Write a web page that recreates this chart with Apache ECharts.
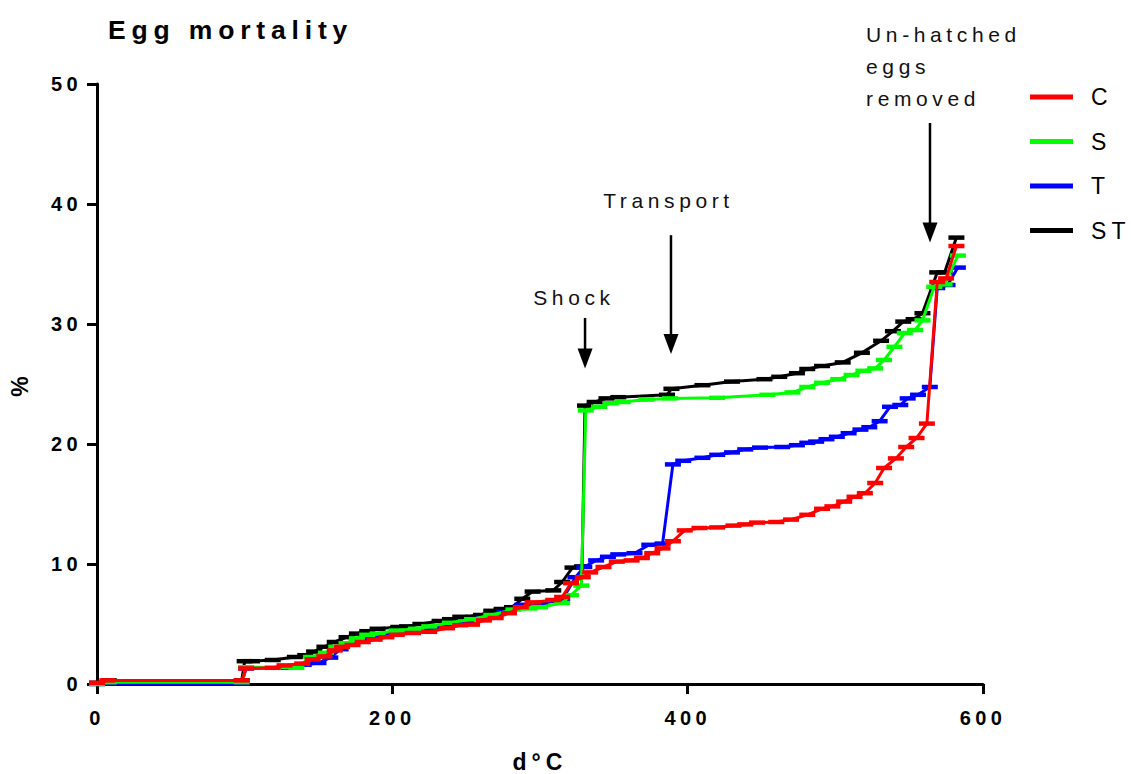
<!DOCTYPE html>
<html>
<head>
<meta charset="utf-8">
<title>Egg mortality</title>
<script src="https://cdn.jsdelivr.net/npm/echarts@6/dist/echarts.min.js"></script>
<style>
  html, body { margin: 0; padding: 0; background: #fff; }
  #chart { width: 1131px; height: 774px; }
  /* the figure uses widely tracked lettering throughout */
  #chart text { letter-spacing: 0.22em; }
</style>
</head>
<body>
<div id="chart"></div>
<script>
// Cumulative egg mortality (%) against degree-days (d°C), one [d°C, %] pair per sampling point.
const seriesNames = ['C', 'S', 'T', 'ST'];

const cData = [
  [0, 0.1], [7, 0.3], [98, 0.3], [101, 1.3], [119, 1.35], [127, 1.55], [139, 1.7], [146, 2.05],
  [154, 2.3], [161, 2.8], [166, 3.1], [173, 3.25], [180, 3.5], [188, 3.7], [196, 3.9], [203, 4.1],
  [214, 4.25], [225, 4.35], [237, 4.65], [246, 4.9], [254, 4.95], [262, 5.3], [270, 5.5], [279, 5.9],
  [287, 6.4], [295, 6.8], [309, 7.0], [315, 7.25], [321, 8.4], [329, 8.9], [334, 9.3], [343, 9.75],
  [352, 10.2], [362, 10.3], [369, 10.5], [376, 10.9], [383, 11.3], [390, 11.9], [398, 12.8], [408, 13.0],
  [420, 13.05], [431, 13.2], [439, 13.3], [447, 13.45], [460, 13.5], [470, 13.7], [481, 14.1], [491, 14.6],
  [498, 14.8], [506, 15.2], [513, 15.6], [520, 15.9], [527, 16.75], [533, 18.0], [541, 18.8], [548, 19.75],
  [555, 20.5], [562, 21.7], [569, 33.5], [575, 33.8], [582, 36.5]
];

const sData = [
  [0, 0], [8, 0.15], [98, 0.15], [101, 1.4], [135, 1.35], [145, 2.25], [155, 2.6], [162, 3.1],
  [169, 3.4], [176, 3.8], [183, 4.1], [190, 4.2], [203, 4.45], [216, 4.6], [225, 4.8], [239, 5.1],
  [254, 5.4], [267, 5.75], [282, 6.2], [293, 6.3], [300, 6.4], [315, 6.75], [321, 7.4], [328, 8.2],
  [331, 22.8], [340, 23.1], [348, 23.4], [356, 23.5], [372, 23.7], [388, 23.8], [420, 23.85], [454, 24.1],
  [471, 24.3], [481, 24.75], [491, 25.1], [502, 25.4], [511, 25.75], [519, 26.1], [527, 26.3], [533, 27.0],
  [540, 28.1], [547, 29.25], [554, 29.5], [559, 30.3], [567, 33.1], [574, 33.3], [583, 35.7]
];

const tData = [
  [0, 0], [8, 0.05], [98, 0.05], [101, 1.3], [130, 1.35], [140, 1.6], [150, 1.75], [158, 2.2],
  [165, 2.9], [172, 3.3], [180, 3.7], [188, 3.95], [196, 4.15], [206, 4.35], [216, 4.5], [226, 4.6],
  [238, 4.9], [250, 5.2], [262, 5.5], [276, 6.0], [288, 6.6], [300, 6.7], [315, 7.0], [324, 8.9],
  [330, 9.75], [338, 10.3], [346, 10.6], [353, 10.8], [364, 10.9], [374, 11.6], [383, 11.7], [390, 18.3],
  [397, 18.6], [410, 18.85], [420, 19.1], [430, 19.3], [439, 19.55], [449, 19.7], [464, 19.75], [474, 19.9],
  [481, 20.1], [487, 20.2], [494, 20.4], [501, 20.6], [509, 20.9], [517, 21.2], [523, 21.4], [530, 21.9],
  [537, 23.1], [544, 23.25], [549, 23.8], [556, 24.1], [564, 24.75], [569, 33.0], [576, 33.25], [583, 34.7]
];

const stData = [
  [0, 0.1], [8, 0.3], [98, 0.3], [100, 1.9], [105, 1.9], [119, 2.0], [134, 2.25], [141, 2.4],
  [147, 2.7], [154, 3.1], [161, 3.5], [169, 3.9], [176, 4.2], [183, 4.4], [190, 4.6], [204, 4.75],
  [210, 4.8], [219, 5.0], [232, 5.25], [239, 5.4], [246, 5.6], [260, 5.75], [267, 6.1], [274, 6.25],
  [281, 6.4], [288, 7.1], [295, 7.7], [309, 7.8], [315, 8.5], [322, 9.7], [328.5, 9.8], [330.5, 23.2],
  [337, 23.5], [345, 23.8], [353, 23.9], [386, 24.1], [389, 24.6], [410, 24.9], [430, 25.2], [452, 25.4],
  [462, 25.6], [474, 25.9], [481, 26.25], [491, 26.5], [505, 26.8], [518, 27.6], [531, 28.6], [539, 29.4],
  [546, 30.2], [553, 30.4], [559, 30.9], [569, 34.3], [574, 34.3], [582, 37.2]
];

// Event arrows, anchored in data units: x position, arrow top and arrow tip;
// textX/textY give the caption block's anchor (its vertical middle).
const events = [
  { label: 'Shock', x: 330.5, top: 30.5, tip: 26.3, textX: 323, textY: 32.2, align: 'center' },
  { label: 'Transport', x: 388.7, top: 37.4, tip: 27.5, textX: 387, textY: 40.3, align: 'center' },
  { label: 'Un-hatched\neggs\nremoved', x: 564.1, top: 46.75, tip: 36.8, textX: 520.8, textY: 51.5, align: 'left' }
];

const FONT = '"Liberation Sans", Arial, Helvetica, sans-serif';
const colors = { C: '#ff0000', S: '#00ff00', T: '#0000ff', ST: '#000000' };
const dataByName = { C: cData, S: sData, T: tData, ST: stData };

const chart = echarts.init(document.getElementById('chart'), null, { renderer: 'svg' });

function makeSeries(name, z) {
  return {
    name: name,
    type: 'line',
    data: dataByName[name],
    z: z,
    color: colors[name],
    lineStyle: { width: 3, color: colors[name] },
    itemStyle: { color: colors[name] },
    symbol: 'rect',
    symbolSize: [16, 4.5],
    showSymbol: true,
    showAllSymbol: true,
    emphasis: { disabled: true }
  };
}

const axisCommon = {
  axisLine: { show: true, lineStyle: { color: '#000', width: 3 } },
  axisTick: { show: true, inside: false, length: 10, lineStyle: { color: '#000', width: 3 } },
  splitLine: { show: false },
  axisLabel: { color: '#000', fontFamily: FONT, fontSize: 20, fontWeight: 'bold' },
  nameTextStyle: { color: '#000', fontFamily: FONT, fontSize: 23, fontWeight: 'bold' },
  nameMoveOverlap: false
};

chart.setOption({
  animation: false,
  backgroundColor: '#fff',
  title: {
    text: 'Egg mortality',
    left: 103,
    top: 11,
    textStyle: { fontFamily: FONT, fontSize: 26.5, fontWeight: 'bold', color: '#000' }
  },
  legend: {
    data: seriesNames,
    orient: 'vertical',
    left: 1025,
    top: 80,
    icon: 'rect',
    itemWidth: 43,
    itemHeight: 5,
    itemGap: 20.5,
    selectedMode: false,
    textStyle: { fontFamily: FONT, fontSize: 23, color: '#000', lineHeight: 24, padding: [0, 0, 0, 13] }
  },
  grid: { left: 97, right: 148, top: 84, bottom: 90, containLabel: false, outerBoundsMode: 'none' },
  xAxis: Object.assign({}, axisCommon, {
    type: 'value',
    min: 0,
    max: 600,
    interval: 200,
    name: 'd°C',
    nameLocation: 'middle',
    nameGap: 66,
    axisLabel: Object.assign({}, axisCommon.axisLabel, { margin: 24 })
  }),
  yAxis: Object.assign({}, axisCommon, {
    type: 'value',
    min: 0,
    max: 50,
    interval: 10,
    name: '%',
    nameLocation: 'middle',
    nameRotate: 90,
    nameGap: 66,
    axisLabel: Object.assign({}, axisCommon.axisLabel, { margin: 15 })
  }),
  series: [makeSeries('ST', 2), makeSeries('T', 3), makeSeries('S', 4), makeSeries('C', 5)]
});

// Arrows and their captions, placed through the grid's coordinate system.
function toPx(x, y) {
  return chart.convertToPixel({ gridIndex: 0 }, [x, y]);
}

const headW = 15, headH = 20;
const graphics = [];
events.forEach(function (ev) {
  const top = toPx(ev.x, ev.top);
  const tip = toPx(ev.x, ev.tip);
  const txt = toPx(ev.textX, ev.textY);
  graphics.push({
    type: 'line',
    shape: { x1: top[0], y1: top[1], x2: tip[0], y2: tip[1] - headH + 2 },
    style: { stroke: '#000', lineWidth: 2.5 },
    z: 10
  });
  graphics.push({
    type: 'polygon',
    shape: { points: [[tip[0] - headW / 2, tip[1] - headH], [tip[0] + headW / 2, tip[1] - headH], [tip[0], tip[1]]] },
    style: { fill: '#000' },
    z: 10
  });
  graphics.push({
    type: 'text',
    x: txt[0],
    y: txt[1],
    style: {
      text: ev.label,
      font: '21px ' + FONT,
      fill: '#111',
      align: ev.align,
      textAlign: ev.align,
      verticalAlign: 'middle',
      textVerticalAlign: 'middle',
      lineHeight: 32
    },
    z: 10
  });
});

chart.setOption({ graphic: graphics });
</script>
</body>
</html>
